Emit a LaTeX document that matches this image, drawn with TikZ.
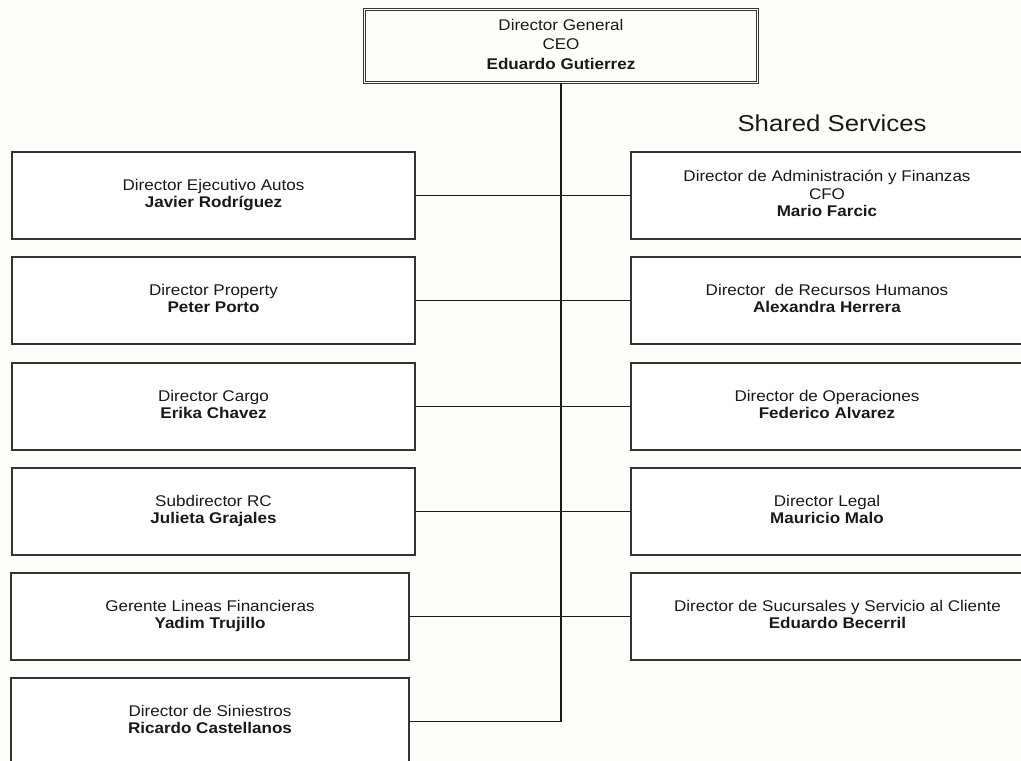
\documentclass[tikz,border=0pt]{standalone}
\usepackage{fontspec}
\setmainfont{Liberation Sans}
\usepackage{graphicx}
\definecolor{paper}{RGB}{253,253,249}
\newcommand{\wide}[1]{\scalebox{1.1}[1]{\begin{tabular}{@{}c@{}}#1\end{tabular}}}

\begin{document}
\begin{tikzpicture}[x=1pt,y=-1pt]
    \tikzstyle{every node}=[font=\fontsize{15.5}{17.5}\selectfont, text=black!90, inner sep=0pt]
    \tikzstyle{post}=[rectangle, draw=black!80, fill=white, line width=1.3pt, minimum height=87pt]
    \tikzstyle{lpost}=[post, minimum width=403pt]
    \tikzstyle{rpost}=[post, minimum width=392pt]
    \tikzstyle{link}=[line width=1.2pt, black!90]
    \fill[paper] (0,0) rectangle (1021,761);
    \useasboundingbox (0,0) rectangle (1021,761);
    \node[rectangle, draw=black!80, line width=0.8pt, double=white, double distance=1.6pt,
      minimum width=393pt, minimum height=73pt, font=\fontsize{15.5}{19.5}\selectfont]
      (ceo) at (561,46) {\wide{Director General\\CEO\\\textbf{Eduardo Gutierrez}}};
    \node[font=\fontsize{23}{23}\selectfont, anchor=base] (shared) at (832,131.7)
      {\scalebox{1.12}[1]{Shared Services}};
    \node[lpost] (autos) at (213.5,195.5) {\wide{Director Ejecutivo Autos\\\textbf{Javier Rodríguez}}};
    \node[lpost] (property) at (213.5,300.5) {\wide{Director Property\\\textbf{Peter Porto}}};
    \node[lpost] (cargo) at (213.5,406.5) {\wide{Director Cargo\\\textbf{Erika Chavez}}};
    \node[lpost] (rc) at (213.5,511.5) {\wide{Subdirector RC\\\textbf{Julieta Grajales}}};
    \node[lpost, minimum width=398pt] (lineas) at (210,616.5) {\wide{Gerente Lineas Financieras\\\textbf{Yadim Trujillo}}};
    \node[lpost, minimum width=398pt] (siniestros) at (210,721.5) {\wide{Director de Siniestros\\\textbf{Ricardo Castellanos}}};
    \node[rpost] (cfo) at (827,195.5) {\wide{Director de Administración y Finanzas\\CFO\\\textbf{Mario Farcic}}};
    \node[rpost] (rh) at (827,300.5) {\wide{Director\ \ de Recursos Humanos\\\textbf{Alexandra Herrera}}};
    \node[rpost] (ops) at (827,406.5) {\wide{Director de Operaciones\\\textbf{Federico Alvarez}}};
    \node[rpost] (legal) at (827,511.5) {\wide{Director Legal\\\textbf{Mauricio Malo}}};
    \node[rpost, minimum width=413pt] (sucursales) at (837.5,616.5) {\wide{Director de Sucursales y Servicio al Cliente\\\textbf{Eduardo Becerril}}};
    \draw[link] (ceo.south) |- (siniestros.east);
    \foreach \l/\r in {autos/cfo, property/rh, cargo/ops, rc/legal, lineas/sucursales}
      \draw[link] (\l.east) -- (\r.west);
\end{tikzpicture}
\end{document}
